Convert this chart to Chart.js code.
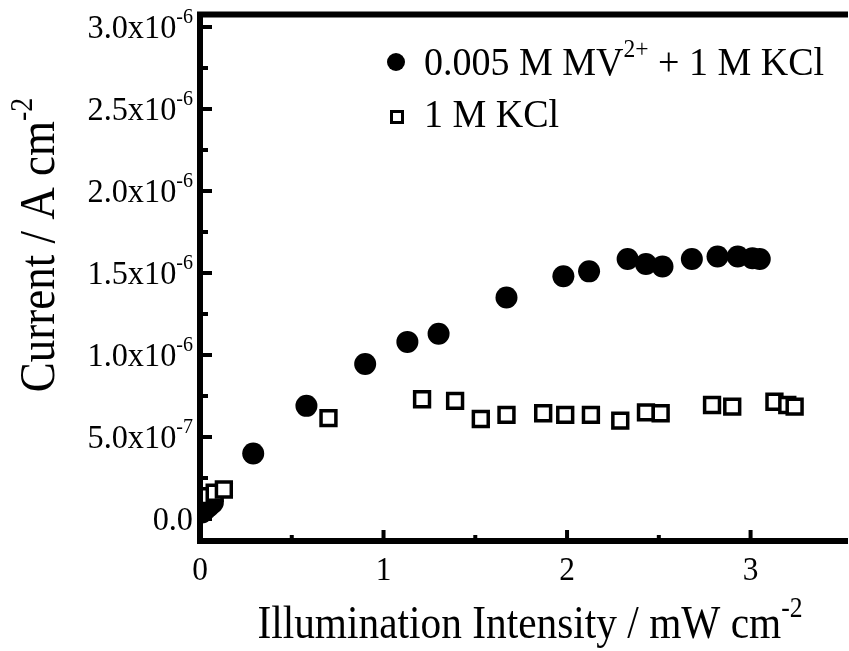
<!DOCTYPE html>
<html>
<head>
<meta charset="utf-8">
<script src="https://cdn.jsdelivr.net/npm/chart.js@4.4.1/dist/chart.umd.min.js"></script>
<style>
html, body { margin: 0; padding: 0; background: #fff; overflow: hidden; }
</style>
</head>
<body>
<canvas id="myChart" width="849" height="651"></canvas>
<script>
// data
const mvX = [ 0.01, 0.03, 0.05, 0.07, 0.29, 0.58, 0.90, 1.13, 1.30, 1.67, 1.98, 2.12, 2.33, 2.43, 2.52, 2.68, 2.82, 2.93, 3.01, 3.05 ];
const mvY = [ 0.04e-6, 0.06e-6, 0.08e-6, 0.10e-6, 0.40e-6, 0.69e-6, 0.945e-6, 1.08e-6, 1.13e-6, 1.35e-6, 1.48e-6, 1.51e-6, 1.585e-6, 1.555e-6, 1.54e-6, 1.585e-6, 1.60e-6, 1.60e-6, 1.59e-6, 1.585e-6 ];
const kclX = [ 0.04, 0.08, 0.13, 0.70, 1.21, 1.39, 1.53, 1.67, 1.87, 1.99, 2.13, 2.29, 2.43, 2.51, 2.79, 2.90, 3.13, 3.20, 3.24 ];
const kclY = [ 0.14e-6, 0.16e-6, 0.18e-6, 0.615e-6, 0.73e-6, 0.72e-6, 0.61e-6, 0.635e-6, 0.645e-6, 0.635e-6, 0.635e-6, 0.60e-6, 0.65e-6, 0.645e-6, 0.695e-6, 0.685e-6, 0.715e-6, 0.695e-6, 0.685e-6 ];

const xMajor = [ 0, 1, 2, 3 ];
const xMinor = [ 0.5, 1.5, 2.5 ];
const xTickLabels = [ '0', '1', '2', '3' ];
const yMajor = [ 0, 0.5e-6, 1.0e-6, 1.5e-6, 2.0e-6, 2.5e-6, 3.0e-6 ];
const yMinor = [ 0.25e-6, 0.75e-6, 1.25e-6, 1.75e-6, 2.25e-6, 2.75e-6 ];
const yTickLabels = [ '0.0', '5.0x10^-7', '1.0x10^-6', '1.5x10^-6', '2.0x10^-6', '2.5x10^-6', '3.0x10^-6' ];

const seriesLabels = [ '0.005 M MV^2+ + 1 M KCl', '1 M KCl' ];
const xTitle = 'Illumination Intensity / mW cm^-2';
const yTitle = 'Current / A cm^-2';

const FONT = '"Liberation Serif", "Times New Roman", serif';

// text with ^superscripts
function splitSup( str ) {
    const parts = [];
    str.split( /(\^\S+)/ ).forEach( p => {
        if ( !p ) return;
        if ( p[0] === '^' ) parts.push( { t: p.slice( 1 ), sup: true } );
        else parts.push( { t: p, sup: false } );
    });
    return parts;
}
function richWidth( ctx, str, size ) {
    let w = 0;
    splitSup( str ).forEach( p => {
        ctx.font = ( p.sup ? size * 0.62 : size ) + 'px ' + FONT;
        w += ctx.measureText( p.t ).width;
    });
    return w;
}
// sx < 1 squeezes the text sideways (the original lettering is narrow)
function drawRich( ctx, str, x, y, size, align, sx ) {
    sx = sx || 1;
    const w = richWidth( ctx, str, size ) * sx;
    let cx = align === 'right' ? x - w : align === 'center' ? x - w / 2 : x;
    ctx.save();
    ctx.translate( cx, y );
    ctx.scale( sx, 1 );
    ctx.textBaseline = 'alphabetic';
    ctx.textAlign = 'left';
    let px = 0;
    splitSup( str ).forEach( p => {
        ctx.font = ( p.sup ? size * 0.62 : size ) + 'px ' + FONT;
        ctx.fillText( p.t, px, p.sup ? -size * 0.45 : 0 );
        px += ctx.measureText( p.t ).width;
    });
    ctx.restore();
}

const framePlugin = {
    id: 'frame',
    afterDatasetsDraw( chart ) {
        const ctx = chart.ctx;
        const ca = chart.chartArea;
        const xs = chart.scales.x, ys = chart.scales.y;
        ctx.save();
        ctx.fillStyle = '#000';
        ctx.strokeStyle = '#000';

        // axes
        ctx.lineWidth = 6;
        ctx.lineCap = 'square';
        ctx.beginPath();
        ctx.moveTo( ca.left, ca.top );
        ctx.lineTo( ca.left, ca.bottom );
        ctx.lineTo( ca.right + 10, ca.bottom );
        ctx.moveTo( ca.left, ca.top );
        ctx.lineTo( ca.right + 10, ca.top );
        ctx.stroke();

        // inward ticks
        ctx.lineWidth = 4;
        ctx.lineCap = 'butt';
        ctx.beginPath();
        yMajor.forEach( v => { const p = ys.getPixelForValue( v ); ctx.moveTo( ca.left, p ); ctx.lineTo( ca.left + 12, p ); });
        yMinor.forEach( v => { const p = ys.getPixelForValue( v ); ctx.moveTo( ca.left, p ); ctx.lineTo( ca.left + 8, p ); });
        xMajor.forEach( v => { const p = xs.getPixelForValue( v ); ctx.moveTo( p, ca.bottom ); ctx.lineTo( p, ca.bottom - 11 ); });
        xMinor.forEach( v => { const p = xs.getPixelForValue( v ); ctx.moveTo( p, ca.bottom ); ctx.lineTo( p, ca.bottom - 6 ); });
        ctx.stroke();

        // tick labels
        yMajor.forEach( ( v, i ) => {
            drawRich( ctx, yTickLabels[i], 193, ys.getPixelForValue( v ) + 11, 34, 'right', 0.95 );
        });
        xMajor.forEach( ( v, i ) => {
            drawRich( ctx, xTickLabels[i], xs.getPixelForValue( v ), 580, 33, 'center', 0.95 );
        });

        // axis titles
        drawRich( ctx, xTitle, 530, 638, 47, 'center', 0.88 );
        ctx.save();
        ctx.translate( 54, 245 );
        ctx.rotate( -Math.PI / 2 );
        drawRich( ctx, yTitle, 0, 0, 50, 'center', 0.9 );
        ctx.restore();

        // legend
        ctx.beginPath();
        ctx.arc( 396, 62, 9, 0, Math.PI * 2 );
        ctx.fill();
        ctx.lineWidth = 3;
        ctx.strokeRect( 391.5, 111.5, 11, 11 );
        drawRich( ctx, seriesLabels[0], 424, 75, 40, 'left', 0.95 );
        drawRich( ctx, seriesLabels[1], 424, 127, 40, 'left', 0.95 );
        ctx.restore();
    }
};

const ctx = document.getElementById( 'myChart' ).getContext( '2d' );

new Chart( ctx, {
    type: 'scatter',
    data: {
        datasets: [
            {
                label: seriesLabels[0],
                data: mvX.map( ( x, i ) => ( { x: x, y: mvY[i] } ) ),
                pointStyle: 'circle',
                pointRadius: 11,
                backgroundColor: '#000',
                borderColor: '#000',
                borderWidth: 0,
                order: 1
            },
            {
                label: seriesLabels[1],
                data: kclX.map( ( x, i ) => ( { x: x, y: kclY[i] } ) ),
                pointStyle: 'rect',
                pointRadius: 10.5,
                backgroundColor: '#fff',
                borderColor: '#000',
                borderWidth: 3.5,
                order: 0
            }
        ]
    },
    options: {
        responsive: false,
        animation: false,
        events: [],
        layout: {
            padding: { left: 200, right: 0, top: 14.5, bottom: 110 }
        },
        plugins: {
            legend: { display: false },
            tooltip: { enabled: false }
        },
        scales: {
            x: {
                type: 'linear',
                min: 0,
                max: 3.46,
                grid: { display: false },
                border: { display: false },
                ticks: { display: false },
                afterFit: s => { s.height = 0; }
            },
            y: {
                type: 'linear',
                min: -0.134e-6,
                max: 3.076e-6,
                grid: { display: false },
                border: { display: false },
                ticks: { display: false },
                afterFit: s => { s.width = 0; }
            }
        }
    },
    plugins: [ framePlugin ]
});
</script>
</body>
</html>
